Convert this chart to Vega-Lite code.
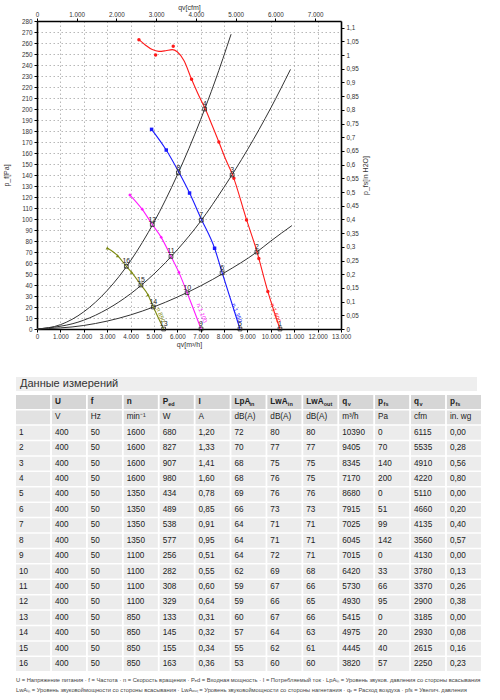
{
  "$schema": "https://vega.github.io/schema/vega-lite/v6.json",
  "padding": {"left": 2, "top": 3, "right": 2, "bottom": 2},
  "background": "white",
  "config": {
    "view": {"stroke": null},
    "locale": {"number": {"decimal": ",", "thousands": ".", "grouping": [3], "currency": ["", " €"]}},
    "font": "Liberation Sans",
    "axis": {
      "labelFont": "Liberation Sans", "labelFontSize": 6.3, "labelColor": "#333", "labelOverlap": false, "labelFlush": false,
      "titleFont": "Liberation Sans", "titleFontSize": 7, "titleFontWeight": "normal", "titleColor": "#333",
      "domainColor": "#000", "domainWidth": 1.6, "tickColor": "#000", "tickSize": 3,
      "gridColor": "#9a9a9a", "gridDash": [1.5, 2.5], "gridWidth": 0.7
    }
  },
  "datasets": {
    "sys": [
      {"id": "A", "q": 0, "p": 0}, {"id": "A", "q": 1000, "p": 3.9}, {"id": "A", "q": 2000, "p": 15.6}, {"id": "A", "q": 3000, "p": 35},
      {"id": "A", "q": 4000, "p": 62}, {"id": "A", "q": 5000, "p": 97}, {"id": "A", "q": 6000, "p": 140}, {"id": "A", "q": 7000, "p": 190.5},
      {"id": "A", "q": 7600, "p": 224.5}, {"id": "A", "q": 8300, "p": 268},
      {"id": "B", "q": 0, "p": 0}, {"id": "B", "q": 2000, "p": 8}, {"id": "B", "q": 3000, "p": 18}, {"id": "B", "q": 4000, "p": 32},
      {"id": "B", "q": 5000, "p": 50}, {"id": "B", "q": 6000, "p": 72}, {"id": "B", "q": 7000, "p": 98}, {"id": "B", "q": 8000, "p": 129},
      {"id": "B", "q": 9000, "p": 163}, {"id": "B", "q": 10000, "p": 201}, {"id": "B", "q": 10840, "p": 236},
      {"id": "C", "q": 0, "p": 0}, {"id": "C", "q": 2000, "p": 3.2}, {"id": "C", "q": 4000, "p": 12.8}, {"id": "C", "q": 6000, "p": 29},
      {"id": "C", "q": 8000, "p": 51}, {"id": "C", "q": 9400, "p": 70}, {"id": "C", "q": 10000, "p": 80}, {"id": "C", "q": 10900, "p": 94}
    ],
    "fan": [
      {"speed": "1600", "q": 4359, "p": 263}, {"speed": "1600", "q": 4645, "p": 258}, {"speed": "1600", "q": 4929, "p": 254},
      {"speed": "1600", "q": 5214, "p": 252.4}, {"speed": "1600", "q": 5500, "p": 253}, {"speed": "1600", "q": 5783, "p": 254},
      {"speed": "1600", "q": 5996, "p": 252}, {"speed": "1600", "q": 6282, "p": 244}, {"speed": "1600", "q": 6611, "p": 227},
      {"speed": "1600", "q": 6923, "p": 212}, {"speed": "1600", "q": 7165, "p": 201.5}, {"speed": "1600", "q": 7492, "p": 185},
      {"speed": "1600", "q": 7778, "p": 170}, {"speed": "1600", "q": 8063, "p": 154.5}, {"speed": "1600", "q": 8348, "p": 141},
      {"speed": "1600", "q": 8960, "p": 99.4}, {"speed": "1600", "q": 9372, "p": 72.7}, {"speed": "1600", "q": 9872, "p": 34},
      {"speed": "1600", "q": 10390, "p": 0},
      {"speed": "1350", "q": 4900, "p": 181.5}, {"speed": "1350", "q": 5527, "p": 162.7}, {"speed": "1350", "q": 6068, "p": 142.4},
      {"speed": "1350", "q": 6524, "p": 123.6}, {"speed": "1350", "q": 7023, "p": 100}, {"speed": "1350", "q": 7594, "p": 73.4},
      {"speed": "1350", "q": 7920, "p": 51}, {"speed": "1350", "q": 8680, "p": 0},
      {"speed": "1100", "q": 3974, "p": 121.8}, {"speed": "1100", "q": 4500, "p": 108.8}, {"speed": "1100", "q": 4930, "p": 95},
      {"speed": "1100", "q": 5312, "p": 83.3}, {"speed": "1100", "q": 5730, "p": 66}, {"speed": "1100", "q": 6068, "p": 51.5},
      {"speed": "1100", "q": 6420, "p": 33}, {"speed": "1100", "q": 7015, "p": 0},
      {"speed": "850", "q": 3006, "p": 73.6}, {"speed": "850", "q": 3447, "p": 66.7}, {"speed": "850", "q": 3820, "p": 57},
      {"speed": "850", "q": 4046, "p": 51.5}, {"speed": "850", "q": 4445, "p": 40}, {"speed": "850", "q": 4744, "p": 31.2},
      {"speed": "850", "q": 4975, "p": 20}, {"speed": "850", "q": 5415, "p": 0}
    ],
    "meas": [
      {"speed": "1600", "q": 4359, "p": 263}, {"speed": "1600", "q": 5072, "p": 249}, {"speed": "1600", "q": 5826, "p": 257},
      {"speed": "1600", "q": 6610, "p": 227}, {"speed": "1600", "q": 7778, "p": 170}, {"speed": "1600", "q": 8420, "p": 137},
      {"speed": "1600", "q": 8960, "p": 99}, {"speed": "1600", "q": 9487, "p": 64}, {"speed": "1600", "q": 9872, "p": 34},
      {"speed": "1350", "q": 4900, "p": 181.5}, {"speed": "1350", "q": 5527, "p": 162.7}, {"speed": "1350", "q": 6524, "p": 123.6},
      {"speed": "1350", "q": 7594, "p": 73.4},
      {"speed": "1100", "q": 3974, "p": 121.8}, {"speed": "1100", "q": 4500, "p": 108.8}, {"speed": "1100", "q": 5312, "p": 83.3},
      {"speed": "1100", "q": 6068, "p": 51.5},
      {"speed": "850", "q": 3006, "p": 73.6}, {"speed": "850", "q": 3447, "p": 66.7}, {"speed": "850", "q": 4046, "p": 51.5},
      {"speed": "850", "q": 4744, "p": 31.2}
    ],
    "ops": [
      {"id": "1", "q": 10390, "p": 0}, {"id": "2", "q": 9405, "p": 70}, {"id": "3", "q": 8345, "p": 140}, {"id": "4", "q": 7170, "p": 200},
      {"id": "5", "q": 8680, "p": 0}, {"id": "6", "q": 7915, "p": 51}, {"id": "7", "q": 7025, "p": 99}, {"id": "8", "q": 6045, "p": 142},
      {"id": "9", "q": 7015, "p": 0}, {"id": "10", "q": 6420, "p": 33}, {"id": "11", "q": 5730, "p": 66}, {"id": "12", "q": 4930, "p": 95},
      {"id": "13", "q": 5415, "p": 0}, {"id": "14", "q": 4975, "p": 20}, {"id": "15", "q": 4445, "p": 40}, {"id": "16", "q": 3820, "p": 57}
    ],
    "lbl": [
      {"speed": "1600", "q": 10200, "p": 14.5, "label": "n 1.600"},
      {"speed": "1350", "q": 8547, "p": 14.5, "label": "n 1.350"},
      {"speed": "1100", "q": 7051, "p": 14.5, "label": "n 1.100"},
      {"speed": "850", "q": 5286, "p": 12.7, "label": "n 850"}
    ],
    "tbl": [
      {"row": "h1", "c0": "", "c1": "U", "c2": "f", "c3": "n", "c4": "P", "c5": "I", "c6": "LpA", "c7": "LwA", "c8": "LwA", "c9": "q", "c10": "p", "c11": "q", "c12": "p"},
      {"row": "h2", "c0": "", "c1": "V", "c2": "Hz", "c3": "min⁻¹", "c4": "W", "c5": "A", "c6": "dB(A)", "c7": "dB(A)", "c8": "dB(A)", "c9": "m³/h", "c10": "Pa", "c11": "cfm", "c12": "in. wg"},
      {"row": "1", "c0": "1", "c1": "400", "c2": "50", "c3": "1600", "c4": "680", "c5": "1,20", "c6": "72", "c7": "80", "c8": "80", "c9": "10390", "c10": "0", "c11": "6115", "c12": "0,00"},
      {"row": "2", "c0": "2", "c1": "400", "c2": "50", "c3": "1600", "c4": "827", "c5": "1,33", "c6": "70", "c7": "77", "c8": "77", "c9": "9405", "c10": "70", "c11": "5535", "c12": "0,28"},
      {"row": "3", "c0": "3", "c1": "400", "c2": "50", "c3": "1600", "c4": "907", "c5": "1,41", "c6": "68", "c7": "75", "c8": "75", "c9": "8345", "c10": "140", "c11": "4910", "c12": "0,56"},
      {"row": "4", "c0": "4", "c1": "400", "c2": "50", "c3": "1600", "c4": "980", "c5": "1,60", "c6": "68", "c7": "76", "c8": "75", "c9": "7170", "c10": "200", "c11": "4220", "c12": "0,80"},
      {"row": "5", "c0": "5", "c1": "400", "c2": "50", "c3": "1350", "c4": "434", "c5": "0,78", "c6": "69", "c7": "76", "c8": "76", "c9": "8680", "c10": "0", "c11": "5110", "c12": "0,00"},
      {"row": "6", "c0": "6", "c1": "400", "c2": "50", "c3": "1350", "c4": "489", "c5": "0,85", "c6": "66", "c7": "73", "c8": "73", "c9": "7915", "c10": "51", "c11": "4660", "c12": "0,20"},
      {"row": "7", "c0": "7", "c1": "400", "c2": "50", "c3": "1350", "c4": "538", "c5": "0,91", "c6": "64", "c7": "71", "c8": "71", "c9": "7025", "c10": "99", "c11": "4135", "c12": "0,40"},
      {"row": "8", "c0": "8", "c1": "400", "c2": "50", "c3": "1350", "c4": "577", "c5": "0,95", "c6": "64", "c7": "71", "c8": "71", "c9": "6045", "c10": "142", "c11": "3560", "c12": "0,57"},
      {"row": "9", "c0": "9", "c1": "400", "c2": "50", "c3": "1100", "c4": "256", "c5": "0,51", "c6": "64", "c7": "72", "c8": "71", "c9": "7015", "c10": "0", "c11": "4130", "c12": "0,00"},
      {"row": "10", "c0": "10", "c1": "400", "c2": "50", "c3": "1100", "c4": "282", "c5": "0,55", "c6": "62", "c7": "69", "c8": "68", "c9": "6420", "c10": "33", "c11": "3780", "c12": "0,13"},
      {"row": "11", "c0": "11", "c1": "400", "c2": "50", "c3": "1100", "c4": "308", "c5": "0,60", "c6": "59", "c7": "67", "c8": "66", "c9": "5730", "c10": "66", "c11": "3370", "c12": "0,26"},
      {"row": "12", "c0": "12", "c1": "400", "c2": "50", "c3": "1100", "c4": "329", "c5": "0,64", "c6": "59", "c7": "66", "c8": "65", "c9": "4930", "c10": "95", "c11": "2900", "c12": "0,38"},
      {"row": "13", "c0": "13", "c1": "400", "c2": "50", "c3": "850", "c4": "133", "c5": "0,31", "c6": "60", "c7": "67", "c8": "66", "c9": "5415", "c10": "0", "c11": "3185", "c12": "0,00"},
      {"row": "14", "c0": "14", "c1": "400", "c2": "50", "c3": "850", "c4": "145", "c5": "0,32", "c6": "57", "c7": "64", "c8": "63", "c9": "4975", "c10": "20", "c11": "2930", "c12": "0,08"},
      {"row": "15", "c0": "15", "c1": "400", "c2": "50", "c3": "850", "c4": "155", "c5": "0,34", "c6": "55", "c7": "62", "c8": "61", "c9": "4445", "c10": "40", "c11": "2615", "c12": "0,16"},
      {"row": "16", "c0": "16", "c1": "400", "c2": "50", "c3": "850", "c4": "163", "c5": "0,36", "c6": "53", "c7": "60", "c8": "60", "c9": "3820", "c10": "57", "c11": "2250", "c12": "0,23"}
    ],
    "subs": [
      {"row": "h1", "key": "c4", "main": "P", "sub": "ed"},
      {"row": "h1", "key": "c6", "main": "LpA", "sub": "in"},
      {"row": "h1", "key": "c7", "main": "LwA", "sub": "in"},
      {"row": "h1", "key": "c8", "main": "LwA", "sub": "out"},
      {"row": "h1", "key": "c9", "main": "q", "sub": "v"},
      {"row": "h1", "key": "c10", "main": "p", "sub": "fs"},
      {"row": "h1", "key": "c11", "main": "q", "sub": "v"},
      {"row": "h1", "key": "c12", "main": "p", "sub": "fs"}
    ],
    "notes": [
      {"line": "1", "text": "U = Напряжение питания · f = Частота · n = Скорость вращения · Pₑd = Входная мощность · I = Потребляемый ток · LpAᵢₙ = Уровень звуков. давления со стороны всасывания"},
      {"line": "2", "text": "LwAᵢₙ = Уровень звуковоймощности со стороны всасывания · LwAₒᵤₜ = Уровень звуковоймощности со стороны нагнетания · qᵥ = Расход воздуха · pfs = Увелич. давления"}
    ]
  },
  "bounds": "flush",
  "spacing": 48,
  "vconcat": [
    {
      "width": 304,
      "height": 308,
      "layer": [
        {
          "encoding": {
            "x": {"field": "q", "type": "quantitative", "scale": {"domain": [0, 13000], "nice": false, "zero": false},
              "axis": {"title": "qv[m³/h]", "values": [0, 1000, 2000, 3000, 4000, 5000, 6000, 7000, 8000, 9000, 10000, 11000, 12000, 13000], "format": ",d", "grid": true, "labelPadding": 1, "titlePadding": 1}},
            "y": {"field": "p", "type": "quantitative", "scale": {"domain": [0, 280], "nice": false},
              "axis": {"title": "p_f[Pa]", "values": [0, 10, 20, 30, 40, 50, 60, 70, 80, 90, 100, 110, 120, 130, 140, 150, 160, 170, 180, 190, 200, 210, 220, 230, 240, 250, 260, 270, 280], "grid": true, "labelPadding": 2, "titlePadding": 12}}
          },
          "layer": [
            {"data": {"name": "sys"}, "mark": {"type": "line", "interpolate": "monotone", "color": "#333333", "strokeWidth": 1}, "encoding": {"detail": {"field": "id"}}},
            {"data": {"name": "fan"}, "mark": {"type": "line", "interpolate": "monotone", "strokeWidth": 1.1},
              "encoding": {"color": {"field": "speed", "type": "nominal", "scale": {"domain": ["1600", "1350", "1100", "850"], "range": ["#ff1a1a", "#1a1aff", "#ff1aff", "#7d8a12"]}, "legend": null}}},
            {"data": {"name": "meas"}, "mark": {"type": "point", "filled": true, "size": 12, "opacity": 1},
              "encoding": {"color": {"field": "speed", "type": "nominal", "legend": null},
                "shape": {"field": "speed", "type": "nominal", "scale": {"domain": ["1600", "1350", "1100", "850"], "range": ["circle", "square", "diamond", "triangle-up"]}, "legend": null}}},
            {"data": {"name": "ops"}, "mark": {"type": "point", "shape": "square", "size": 14, "color": "#222222", "strokeWidth": 0.8, "filled": false, "opacity": 1}},
            {"data": {"name": "ops"}, "mark": {"type": "text", "dy": -5, "fontSize": 7, "color": "#222222"}, "encoding": {"text": {"field": "id"}}},
            {"data": {"name": "lbl"}, "mark": {"type": "text", "angle": 70, "fontSize": 6},
              "encoding": {"text": {"field": "label"}, "color": {"field": "speed", "type": "nominal", "legend": null}}}
          ]
        },
        {
          "data": {"values": [{"cfm": 0, "wg": 0}, {"cfm": 7651.5, "wg": 1.1241}]},
          "mark": {"type": "point", "opacity": 0},
          "encoding": {
            "x": {"field": "cfm", "type": "quantitative", "scale": {"domain": [0, 7651.5], "nice": false, "zero": false},
              "axis": {"orient": "top", "title": "qv[cfm]", "values": [0, 1000, 2000, 3000, 4000, 5000, 6000, 7000], "format": ",d", "grid": false, "labelPadding": 1, "titlePadding": 1}},
            "y": {"field": "wg", "type": "quantitative", "scale": {"domain": [0, 1.1241], "nice": false},
              "axis": {"orient": "right", "title": "p_fs[in H2O]", "values": [0, 0.05, 0.1, 0.15, 0.2, 0.25, 0.3, 0.35, 0.4, 0.45, 0.5, 0.55, 0.6, 0.65, 0.7, 0.75, 0.8, 0.85, 0.9, 0.95, 1, 1.05, 1.1], "format": ".2~f", "grid": false, "labelPadding": 2, "titlePadding": 3, "titleAngle": 270, "titleBaseline": "top"}}
          }
        }
      ],
      "resolve": {"scale": {"x": "independent", "y": "independent"}}
    },
    {
      "bounds": "flush",
      "spacing": 4,
      "vconcat": [
        {
          "width": 440,
          "height": 14,
          "data": {"values": [{"t": "Данные измерений"}]},
          "layer": [
            {"mark": {"type": "rect", "color": "#eeeeee"},
              "encoding": {"x": {"datum": 0, "type": "quantitative", "scale": {"domain": [0, 1], "range": [-21, 440]}, "axis": null},
                "x2": {"datum": 1}}},
            {"mark": {"type": "text", "align": "left", "dx": 4, "fontSize": 11, "color": "#333333", "font": "Liberation Sans"},
              "encoding": {"text": {"field": "t"}, "x": {"datum": 0, "type": "quantitative", "axis": null}}}
          ]
        },
        {
          "width": 444,
          "height": 276,
          "encoding": {
            "x": {"field": "key", "type": "nominal", "scale": {"domain": ["c0", "c1", "c2", "c3", "c4", "c5", "c6", "c7", "c8", "c9", "c10", "c11", "c12"], "range": [-21, 444], "paddingInner": 0.05, "paddingOuter": 0}, "axis": null},
            "y": {"field": "row", "type": "nominal", "scale": {"domain": ["h1", "h2", "1", "2", "3", "4", "5", "6", "7", "8", "9", "10", "11", "12", "13", "14", "15", "16"], "paddingInner": 0.1, "paddingOuter": 0}, "axis": null}
          },
          "layer": [
            {"data": {"name": "tbl"}, "transform": [{"fold": ["c0", "c1", "c2", "c3", "c4", "c5", "c6", "c7", "c8", "c9", "c10", "c11", "c12"], "as": ["key", "value"]}],
              "mark": {"type": "rect"},
              "encoding": {"fill": {"condition": [{"test": "datum.row === 'h1'", "value": "#d6d6d6"}, {"test": "datum.row === 'h2'", "value": "#e2e2e2"}], "value": "#ececec"}}},
            {"data": {"name": "tbl"}, "transform": [{"fold": ["c0", "c1", "c2", "c3", "c4", "c5", "c6", "c7", "c8", "c9", "c10", "c11", "c12"], "as": ["key", "value"]}, {"filter": "datum.row !== 'h1'"}],
              "mark": {"type": "text", "align": "left", "dx": 3, "fontSize": 8.2, "font": "Liberation Sans Narrow, Liberation Sans", "color": "#222222"},
              "encoding": {"x": {"field": "key", "type": "nominal", "bandPosition": 0}, "text": {"field": "value"}}},
            {"data": {"name": "tbl"}, "transform": [{"fold": ["c0", "c1", "c2", "c3", "c4", "c5", "c6", "c7", "c8", "c9", "c10", "c11", "c12"], "as": ["key", "value"]}, {"filter": "datum.row === 'h1'"}],
              "mark": {"type": "text", "align": "left", "dx": 3, "fontSize": 8.2, "fontWeight": "bold", "font": "Liberation Sans Narrow, Liberation Sans", "color": "#222222"},
              "encoding": {"x": {"field": "key", "type": "nominal", "bandPosition": 0}, "text": {"field": "value"}}},
            {"data": {"name": "subs"}, "transform": [{"filter": "length(datum.main) == 1"}],
              "mark": {"type": "text", "align": "left", "dx": 8.5, "dy": 2.5, "fontSize": 5.5, "fontWeight": "bold", "font": "Liberation Sans Narrow, Liberation Sans", "color": "#222222"},
              "encoding": {"x": {"field": "key", "type": "nominal", "bandPosition": 0}, "text": {"field": "sub"}}},
            {"data": {"name": "subs"}, "transform": [{"filter": "datum.main === 'LpA'"}],
              "mark": {"type": "text", "align": "left", "dx": 18, "dy": 2.5, "fontSize": 5.5, "fontWeight": "bold", "font": "Liberation Sans Narrow, Liberation Sans", "color": "#222222"},
              "encoding": {"x": {"field": "key", "type": "nominal", "bandPosition": 0}, "text": {"field": "sub"}}},
            {"data": {"name": "subs"}, "transform": [{"filter": "datum.main === 'LwA'"}],
              "mark": {"type": "text", "align": "left", "dx": 20.5, "dy": 2.5, "fontSize": 5.5, "fontWeight": "bold", "font": "Liberation Sans Narrow, Liberation Sans", "color": "#222222"},
              "encoding": {"x": {"field": "key", "type": "nominal", "bandPosition": 0}, "text": {"field": "sub"}}}
          ]
        },
        {
          "width": 440,
          "height": 20,
          "data": {"name": "notes"},
          "mark": {"type": "text", "align": "left", "fontSize": 5.75, "color": "#444444", "font": "Liberation Sans Narrow, Liberation Sans"},
          "encoding": {
            "x": {"datum": 0, "type": "quantitative", "scale": {"domain": [0, 1], "range": [-21, 440]}, "axis": null},
            "y": {"field": "line", "type": "ordinal", "scale": {"domain": ["1", "2"], "paddingInner": 0, "paddingOuter": 0}, "axis": null},
            "text": {"field": "text"}
          }
        }
      ]
    }
  ]
}
